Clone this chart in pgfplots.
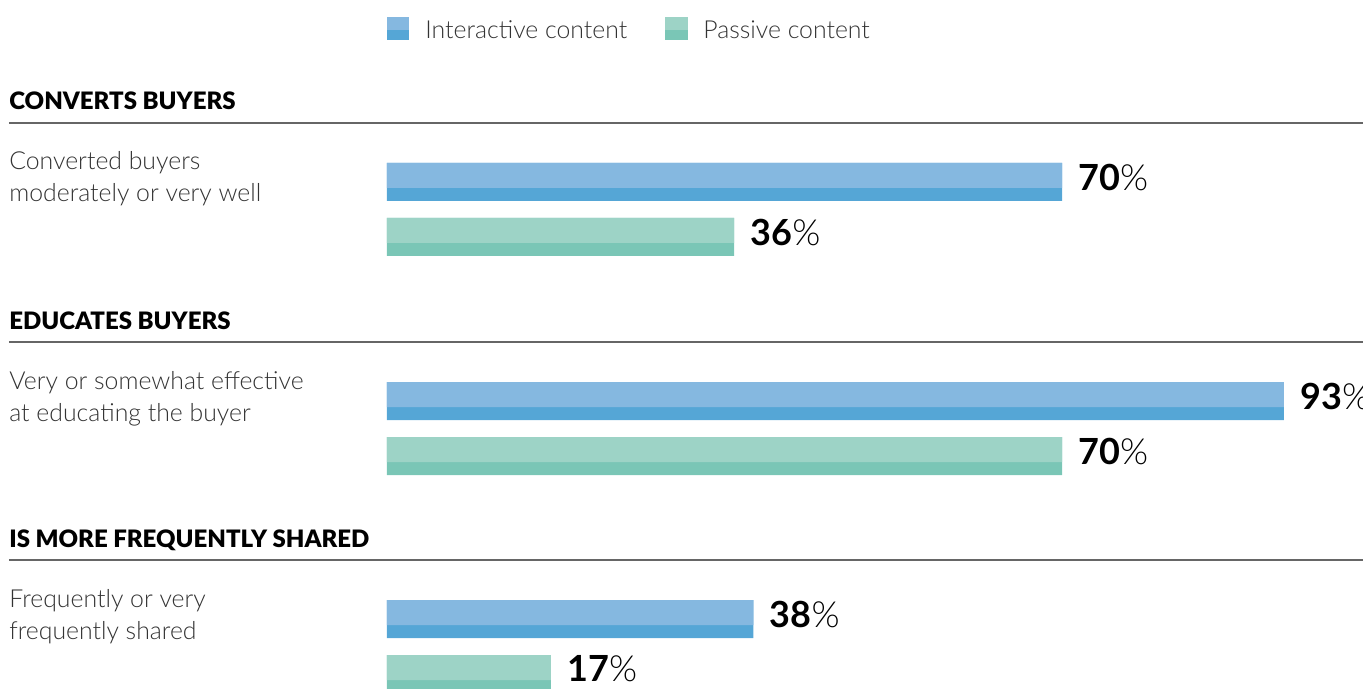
\documentclass[border=0pt]{standalone}
\usepackage{fontspec}
\setmainfont{Lato}[UprightFont=* Light, BoldFont=* Bold]
\newfontfamily\heavy{Lato Black}
\usepackage{pgfplots}
\pgfplotsset{compat=1.18}
\definecolor{intlight}{HTML}{85B8E0}
\definecolor{intdark}{HTML}{55A6D6}
\definecolor{paslight}{HTML}{9DD3C6}
\definecolor{pasdark}{HTML}{7AC6B6}
\definecolor{txt}{HTML}{333333}
\definecolor{rule}{HTML}{666666}
\tikzset{
  hd/.style={anchor=base west, inner sep=0pt, font=\heavy\fontsize{12}{14}\selectfont},
  lb/.style={anchor=base west, inner sep=0pt, text=txt, font=\fontsize{12.4}{14}\selectfont},
}
\begin{document}
\begin{tikzpicture}
\useasboundingbox (0,0) rectangle (681.5pt,344.5pt);
\clip (0,0) rectangle (681.5pt,344.5pt);
\begin{axis}[at={(0,0)}, anchor=south west, scale only axis,
  width=681.5pt, height=344.5pt,
  xmin=-40.13, xmax=101.21, ymin=0, ymax=689, y dir=reverse,
  axis lines=none, clip=false,
  every node near coord/.style={anchor=west, inner sep=0pt, xshift=8pt, yshift=2.5pt,
    font=\fontsize{18}{20}\selectfont, text=black},
]
% Interactive
\addplot[xbar, bar shift=0pt, bar width=38, fill=intdark, draw=none,
  nodes near coords={\textbf{\pgfmathprintnumber[assume math mode=true]{\pgfplotspointmeta}}\%}]
  coordinates {(70,182) (93,401) (38,619)};
\addplot[xbar, bar shift=0pt, bar width=25, fill=intlight, draw=none]
  coordinates {(70,175.5) (93,394.5) (38,612.5)};
% Passive
\addplot[xbar, bar shift=0pt, bar width=38, fill=pasdark, draw=none,
  nodes near coords={\textbf{\pgfmathprintnumber[assume math mode=true]{\pgfplotspointmeta}}\%}]
  coordinates {(36,237) (70,456) (17,674)};
\addplot[xbar, bar shift=0pt, bar width=25, fill=paslight, draw=none]
  coordinates {(36,230.5) (70,449.5) (17,667.5)};

% Legend
\fill[intdark] (axis cs:0,17) rectangle (axis cs:2.33,40);
\fill[intlight] (axis cs:0,17) rectangle (axis cs:2.33,30);
\node[lb] at (axis cs:3.94,39) {Interactive content};
\fill[pasdark] (axis cs:28.83,17) rectangle (axis cs:31.2,40);
\fill[paslight] (axis cs:28.83,17) rectangle (axis cs:31.2,30);
\node[lb] at (axis cs:32.77,39) {Passive content};

% Headers and rules
\node[hd] at (axis cs:-39.2,110) {CONVERTS BUYERS};
\draw[rule, line width=1pt] (axis cs:-39.2,123) -- (axis cs:101.21,123);
\node[hd] at (axis cs:-39.2,329) {EDUCATES BUYERS};
\draw[rule, line width=1pt] (axis cs:-39.2,342) -- (axis cs:101.21,342);
\node[hd] at (axis cs:-39.2,547) {IS MORE FREQUENTLY SHARED};
\draw[rule, line width=1pt] (axis cs:-39.2,560) -- (axis cs:101.21,560);

% Category labels
\node[lb] at (axis cs:-39.2,170) {Converted buyers};
\node[lb] at (axis cs:-39.2,202) {moderately or very well};
\node[lb] at (axis cs:-39.2,389) {Very or somewhat effective};
\node[lb] at (axis cs:-39.2,421) {at educating the buyer};
\node[lb] at (axis cs:-39.2,607) {Frequently or very};
\node[lb] at (axis cs:-39.2,639) {frequently shared};
\end{axis}
\end{tikzpicture}
\end{document}
